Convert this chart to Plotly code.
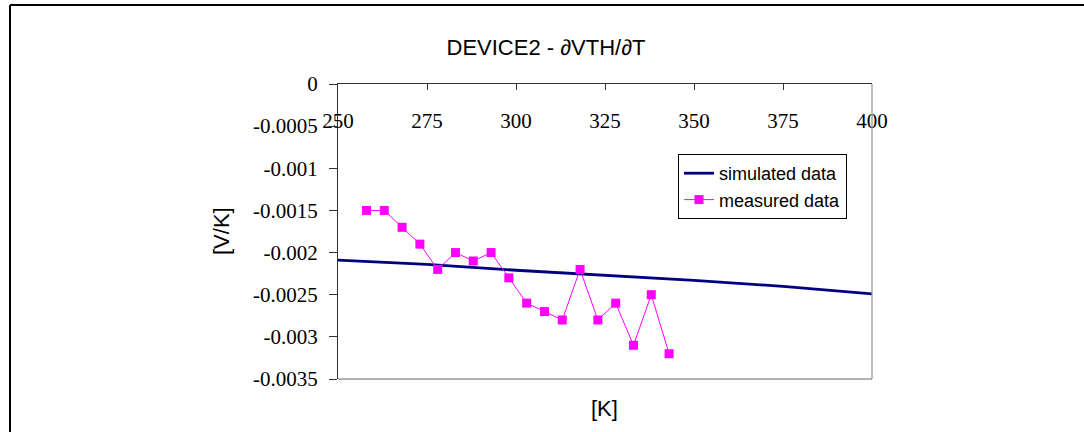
import plotly.graph_objects as go

# Temperature sweep [K] and threshold-voltage temperature coefficient [V/K]
sim_temp = [250, 275, 300, 325, 350, 375, 400]
sim_dvdt = [-0.00209, -0.00214, -0.00221, -0.00227, -0.00233, -0.0024, -0.00249]

meas_temp = [258, 263, 268, 273, 278, 283, 288, 293, 298, 303,
             308, 313, 318, 323, 328, 333, 338, 343]
meas_dvdt = [-0.0015, -0.0015, -0.0017, -0.0019, -0.0022, -0.0020, -0.0021, -0.0020, -0.0023, -0.0026,
             -0.0027, -0.0028, -0.0022, -0.0028, -0.0026, -0.0031, -0.0025, -0.0032]

x_ticks = [250, 275, 300, 325, 350, 375, 400]
y_ticks = [0, -0.0005, -0.001, -0.0015, -0.002, -0.0025, -0.003, -0.0035]
y_tick_text = ["0", "-0.0005", "-0.001", "-0.0015", "-0.002", "-0.0025", "-0.003", "-0.0035"]

serif = "Liberation Serif, Times New Roman, serif"
sans = "Liberation Sans, Arial, sans-serif"

fig = go.Figure()
fig.add_trace(go.Scatter(
    x=sim_temp, y=sim_dvdt, name="simulated data", mode="lines",
    line=dict(color="#000080", width=2.8),
))
fig.add_trace(go.Scatter(
    x=meas_temp, y=meas_dvdt, name="measured data", mode="lines+markers",
    line=dict(color="#FF00FF", width=1),
    marker=dict(symbol="square", size=9, color="#FF00FF"),
))

W, H = 1084, 432
L, R, T, B = 338, 872, 84, 379


def px_x(px):
    return (px - L) / (R - L)


def px_y(py):
    return (B - py) / (B - T)


fig.update_layout(
    width=W, height=H,
    margin=dict(l=L, r=W - R, t=T, b=H - B, autoexpand=False),
    paper_bgcolor="white", plot_bgcolor="white",
    showlegend=True,
    legend=dict(
        x=px_x(678), y=px_y(154), xanchor="left", yanchor="top",
        bordercolor="black", borderwidth=1, bgcolor="white",
        font=dict(family=sans, size=18, color="black"),
        tracegroupgap=0, itemwidth=30,
    ),
    title=dict(
        text="DEVICE2 - ∂VTH/∂T", x=px_x(546), y=1 - 47 / H,
        xanchor="center", yanchor="middle", xref="paper",
        font=dict(family=sans, size=22, color="black"),
    ),
    xaxis=dict(
        range=[250, 400], tickvals=x_ticks, side="top",
        showline=True, linecolor="#333333", linewidth=1.3,
        ticks="inside", ticklen=6, tickcolor="#333333",
        ticklabelposition="inside", ticklabelstandoff=24, ticklabeloverflow="allow",
        tickfont=dict(family=serif, size=21, color="black"),
        showgrid=False, zeroline=False,
    ),
    yaxis=dict(
        range=[-0.0035, 0], tickvals=y_ticks, ticktext=y_tick_text,
        showline=True, linecolor="#333333", linewidth=1.3,
        ticks="outside", ticklen=8, tickcolor="#333333", ticklabelstandoff=7,
        tickfont=dict(family=serif, size=21, color="black"),
        showgrid=False, zeroline=False,
    ),
    shapes=[
        # plot-area border on the bottom and right
        dict(type="line", xref="paper", yref="paper", x0=0, x1=1, y0=0, y1=0,
             line=dict(color="#999999", width=1.3)),
        dict(type="line", xref="paper", yref="paper", x0=1, x1=1, y0=0, y1=1,
             line=dict(color="#999999", width=1.3)),
        # outer frame
        dict(type="line", xref="paper", yref="paper", x0=px_x(10), x1=px_x(W), y0=px_y(5), y1=px_y(5),
             line=dict(color="black", width=2)),
        dict(type="line", xref="paper", yref="paper", x0=px_x(10), x1=px_x(10), y0=px_y(5), y1=px_y(H + 2),
             line=dict(color="black", width=2)),
    ],
    annotations=[
        dict(text="[V/K]", xref="paper", yref="paper", x=px_x(221), y=px_y(231),
             textangle=-90, showarrow=False, xanchor="center", yanchor="middle",
             font=dict(family=sans, size=22, color="black")),
        dict(text="[K]", xref="paper", yref="paper", x=px_x(604), y=px_y(408),
             showarrow=False, xanchor="center", yanchor="middle",
             font=dict(family=sans, size=22, color="black")),
    ],
)

fig.write_html("out.html")
